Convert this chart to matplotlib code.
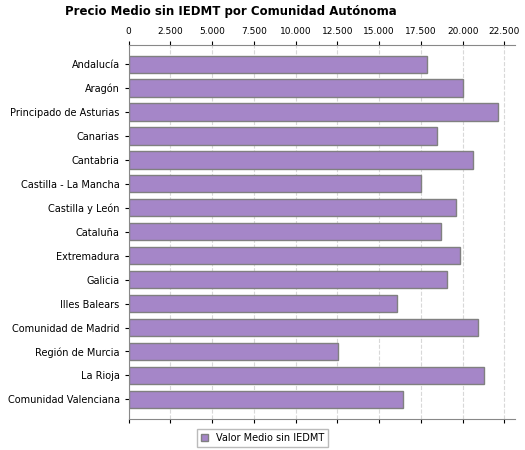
import matplotlib
matplotlib.use("Agg")
import matplotlib.pyplot as plt
from matplotlib.ticker import FuncFormatter
from matplotlib.patches import Patch

regions = ["Andalucía", "Aragón", "Principado de Asturias", "Canarias", "Cantabria",
           "Castilla - La Mancha", "Castilla y León", "Cataluña", "Extremadura", "Galicia",
           "Illes Balears", "Comunidad de Madrid", "Región de Murcia", "La Rioja",
           "Comunidad Valenciana"]
values = [17860, 20000, 22140, 18450, 20600, 17500, 19580, 18690, 19820, 19050,
          16070, 20890, 12560, 21250, 16430]
ticks = list(range(0, 22501, 2500))

fig = plt.figure(figsize=(5.25, 4.5), dpi=100)
ax = fig.add_axes([0.245, 0.07, 0.735, 0.83])
y = range(len(regions))
color = "#a586c8"
ax.barh(y, values, height=0.72, color=color, edgecolor="#808080", linewidth=1)
ax.set_yticks(list(y))
ax.set_yticklabels(regions, fontsize=7)
ax.set_ylim(len(regions) - 0.5 + 0.3, -0.5 - 0.3)
ax.set_xlim(0, 23100)
ax.set_xticks(ticks)
ax.xaxis.set_major_formatter(FuncFormatter(lambda v, p: f"{int(v):,}".replace(",", ".")))
ax.xaxis.tick_top()
ax.tick_params(axis="x", labelsize=6.5, length=3, labeltop=True, labelbottom=False, top=True, bottom=True)
ax.tick_params(axis="y", length=3)
ax.grid(axis="x", linestyle="--", color="#d8d8d8", linewidth=0.8)
ax.set_axisbelow(True)
for s in ["right"]:
    ax.spines[s].set_visible(False)
ax.spines["top"].set_color("#888888")
ax.spines["left"].set_color("#888888")
ax.spines["bottom"].set_color("#888888")
fig.text(0.44, 0.975, "Precio Medio sin IEDMT por Comunidad Autónoma", ha="center", va="center",
         fontsize=8.5, fontweight="bold")
fig.legend(handles=[Patch(facecolor=color, edgecolor="#808080", label="Valor Medio sin IEDMT")],
           loc="center", bbox_to_anchor=(0.5, 0.027), fontsize=7, frameon=True,
           edgecolor="#aaaaaa", fancybox=False, handlelength=0.8, handleheight=0.8)
fig.savefig("out.png", dpi=100)
